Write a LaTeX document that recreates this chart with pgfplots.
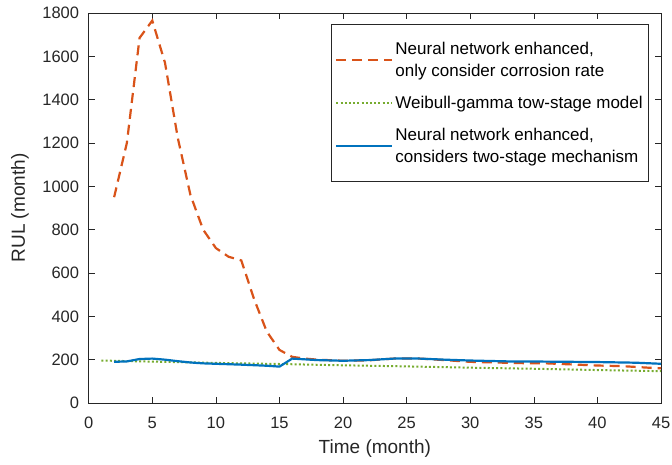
\documentclass[border=0pt]{standalone}
\usepackage{fontspec}
\setmainfont{Liberation Sans}
\usepackage{pgfplots}
\pgfplotsset{compat=1.18}
\definecolor{nnred}{HTML}{D95319}
\definecolor{wbgreen}{HTML}{77AC30}
\definecolor{nnblue}{HTML}{0072BD}
\definecolor{axc}{HTML}{262626}

\begin{document}
\begin{tikzpicture}
\useasboundingbox (-88.7pt,-61pt) rectangle (583.3pt,403pt);
\begin{axis}[
  at={(0pt,0pt)}, anchor=south west,
  scale only axis, width=572.3pt, height=390pt,
  xmin=0, xmax=45, ymin=0, ymax=1800,
  xtick={0,5,...,45}, ytick={0,200,...,1800},
  tick align=inside, major tick length=6pt,
  axis line style={draw=axc, line width=0.6pt},
  tick style={draw=axc, line width=0.6pt},
  /pgf/number format/assume math mode=true,
  /pgf/number format/1000 sep={},
  ticklabel style={font=\fontsize{16.5}{19}\selectfont, text=axc, inner sep=0pt},
  xticklabel style={anchor=center, yshift=-20.3pt},
  yticklabel style={anchor=east, xshift=-9.4pt},
  xlabel={Time (month)}, ylabel={RUL (month)},
  label style={font=\fontsize{19}{22}\selectfont, text=axc},
  xlabel style={at={(axis description cs:0.5,0)}, anchor=center, yshift=-45.5pt},
  ylabel style={at={([xshift=-68.7pt]axis description cs:0,0.5)}, anchor=center},
  legend style={at={(1,1)}, anchor=north east, xshift=-12pt, yshift=-11.3pt,
    draw=axc, line width=0.6pt, fill=white,
    font=\fontsize{17}{22}\selectfont, text=black,
    cells={align=left, font=\fontsize{17}{22}\selectfont},
    row sep=14pt, inner xsep=4pt, inner ysep=15.5pt},
  legend cell align=left,
  legend image code/.code={\draw[#1] (0pt,0pt) -- (56pt,0pt);},
]
\addplot[color=nnred, line width=2.2pt, dash pattern=on 10pt off 6pt] coordinates {
(2,950) (3,1200) (4,1685) (5,1765) (6,1570) (7,1225) (8,960) (9,800) (10,715)
(11,675) (12,658) (13,480) (14,330) (15,245) (16,213) (17,205) (18,200) (20,195)
(22,197) (24,205) (26,205) (28,198) (30,190) (32,187) (34,184) (36,183) (38,178)
(40,173) (42,170) (44,163) (45,160)};
\addlegendentry{Neural network enhanced,\\only consider corrosion rate}
\addplot[color=wbgreen, line width=2pt, dash pattern=on 2pt off 2.2pt] coordinates {
(1,196) (5,191) (10,185) (15,180) (20,174) (25,169) (30,163) (35,158) (40,152) (45,147)};
\addlegendentry{Weibull-gamma tow-stage model}
\addplot[color=nnblue, line width=2.2pt] coordinates {
(2,190) (3,192) (4,203) (5,205) (6,200) (7,193) (8,187) (9,183) (10,181) (12,177)
(14,172) (15,168) (16,205) (18,198) (20,195) (22,198) (24,205) (26,205) (28,200)
(30,196) (33,192) (36,191) (40,189) (43,186) (45,181)};
\addlegendentry{Neural network enhanced,\\considers two-stage mechanism}
\end{axis}
\end{tikzpicture}
\end{document}
